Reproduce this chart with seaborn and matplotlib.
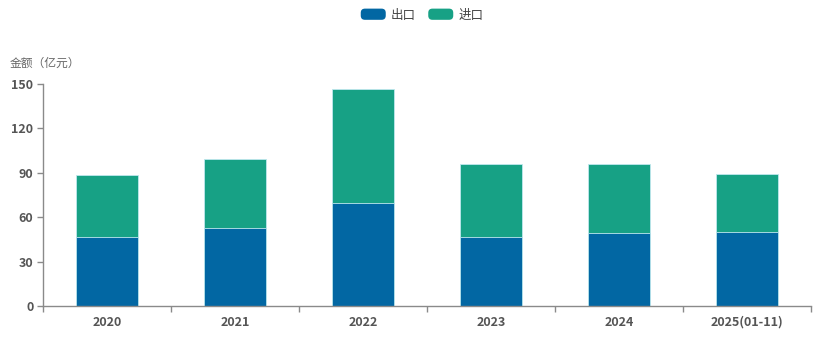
import matplotlib
matplotlib.use("Agg")
import matplotlib.pyplot as plt
import seaborn as sns
import pandas as pd
from matplotlib.patches import FancyBboxPatch, Patch
from matplotlib.legend_handler import HandlerPatch

years = ["2020", "2021", "2022", "2023", "2024", "2025(01-11)"]
export_vals = [46.6, 52.7, 69.6, 46.6, 49.3, 50.0]
import_vals = [41.9, 46.6, 77.0, 49.3, 46.6, 39.2]
series_names = ["出口", "进口"]
y_ticks = [0, 30, 60, 90, 120, 150]

c_exp = "#0267a3"
c_imp = "#17a185"

sns.set_theme(style="white")
plt.rcParams['font.family'] = ['Noto Sans CJK SC', 'DejaVu Sans']

df = pd.DataFrame({"year": years, "export": export_vals, "import": import_vals})
df["total"] = df["export"] + df["import"]

fig = plt.figure(figsize=(8.3, 3.37), dpi=100)
ax = fig.add_axes([43/830, 1-306/337, 768/830, 222/337])

sns.barplot(data=df, x="year", y="total", color=c_imp, width=0.49, ax=ax,
            saturation=1, edgecolor="#bfe8ee", linewidth=0.6)
sns.barplot(data=df, x="year", y="export", color=c_exp, width=0.49, ax=ax,
            saturation=1, edgecolor="#bfe8ee", linewidth=0.6)

ax.set_xlim(-0.5, len(years) - 0.5)
ax.set_ylim(0, 150)
ax.set_yticks(y_ticks)
ax.set_yticklabels([str(v) for v in y_ticks])
ax.set_xlabel("")
ax.set_ylabel("")

for s in ["top", "right"]:
    ax.spines[s].set_visible(False)
for s in ["left", "bottom"]:
    ax.spines[s].set_color("#8a8a8a")
    ax.spines[s].set_linewidth(1.0)

ax.tick_params(axis="y", which="both", left=True, length=4, width=1, color="#8a8a8a",
               labelsize=9, labelcolor="#555555", pad=3)
ax.tick_params(axis="x", which="major", bottom=False, labelsize=9, labelcolor="#555555", pad=1)
for lbl in ax.get_yticklabels() + ax.get_xticklabels():
    lbl.set_fontweight("bold")
ax.set_xticks([i - 0.5 for i in range(len(years) + 1)], minor=True)
ax.tick_params(axis="x", which="minor", bottom=True, length=4, width=1, color="#8a8a8a")

fig.text(10/830, 1-63/337, "金额（亿元）", fontsize=8.5, color="#666666", va="center", ha="left")


class RoundHandler(HandlerPatch):
    def create_artists(self, legend, orig_handle, xdescent, ydescent, width, height, fontsize, trans):
        p = FancyBboxPatch((-xdescent, -ydescent), width, height,
                           boxstyle="round,pad=0,rounding_size=3",
                           facecolor=orig_handle.get_facecolor(), edgecolor="none", transform=trans)
        return [p]


handles = [Patch(facecolor=c_exp), Patch(facecolor=c_imp)]
leg = fig.legend(handles, series_names, loc="center", bbox_to_anchor=(422/830, 1-15/337),
                 ncol=2, frameon=False, fontsize=9, handlelength=2.0, handleheight=1.0,
                 handletextpad=0.4, columnspacing=1.0,
                 handler_map={Patch: RoundHandler()})
for t in leg.get_texts():
    t.set_color("#444444")

fig.savefig("out.png", dpi=100)
